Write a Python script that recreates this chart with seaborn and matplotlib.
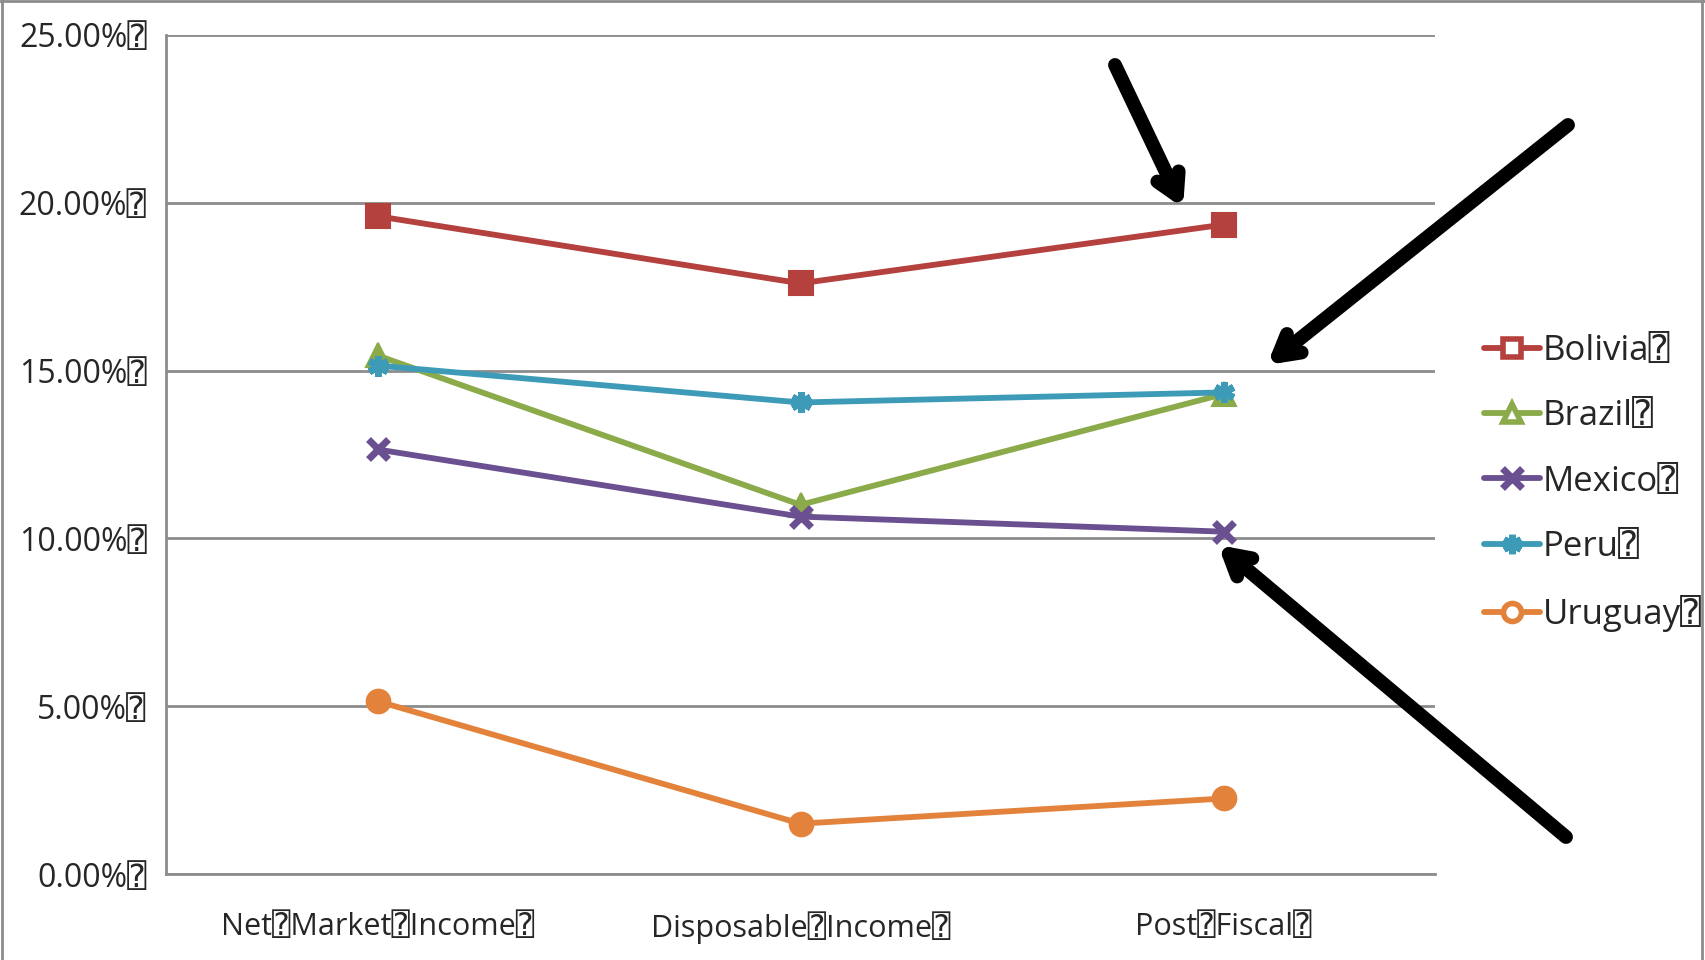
import matplotlib
matplotlib.use("Agg")
import matplotlib.pyplot as plt
from matplotlib.lines import Line2D
import seaborn as sns
import pandas as pd

# Chart data
stages = ["Net Market Income", "Disposable Income", "Post Fiscal"]
bolivia = [19.6, 17.6, 19.35]
brazil = [15.45, 11.0, 14.3]
mexico = [12.65, 10.65, 10.2]
peru = [15.15, 14.05, 14.35]
uruguay = [5.15, 1.5, 2.25]
y_ticks = [0, 5, 10, 15, 20, 25]

BOX = "\u2370"  # missing-glyph box carried in the source labels

series = {
    "Bolivia": bolivia,
    "Brazil": brazil,
    "Mexico": mexico,
    "Peru": peru,
    "Uruguay": uruguay,
}
colors = {
    "Bolivia": "#B4413D",
    "Brazil": "#8BAA4A",
    "Mexico": "#6B5091",
    "Peru": "#3D9BB7",
    "Uruguay": "#E3823A",
}
markers = {
    "Bolivia": "s",
    "Brazil": "^",
    "Mexico": "x",
    "Peru": (6, 2, 0),
    "Uruguay": "o",
}

rows = []
for name, vals in series.items():
    for i, v in enumerate(vals):
        rows.append({"country": name, "pos": i, "value": v})
df = pd.DataFrame(rows)

sns.set_style("white")
FONT = ["Open Sans", "DejaVu Sans", "DejaVu Sans Mono"]
plt.rcParams["font.family"] = FONT

fig = plt.figure(figsize=(17.05, 9.6), dpi=100)
ax = fig.add_axes([166 / 1705, 1 - 874 / 960, (1435 - 166) / 1705, (874 - 35) / 960])

for name in series:
    sub = df[df["country"] == name]
    m = markers[name]
    kw = dict(markersize=17, markeredgewidth=1.5)
    if m == "x" or isinstance(m, tuple):
        kw = dict(markersize=15, markeredgewidth=5)
    sns.lineplot(data=sub, x="pos", y="value", ax=ax, color=colors[name],
                 marker=m, linewidth=4.2, markeredgecolor=colors[name],
                 markerfacecolor=colors[name], zorder=3, **kw)

ax.set_xlim(-0.5, len(stages) - 0.5)
ax.set_ylim(0, 25)
ax.set_yticks(y_ticks)
ax.set_yticklabels([f"{t:.2f}%{BOX}" for t in y_ticks], fontsize=23)
ax.set_xticks([i - 0.5 for i in range(len(stages) + 1)])
ax.set_xticklabels([])
ax.set_xticks(range(len(stages)), minor=True)
ax.set_xticklabels([s.replace(" ", BOX) + BOX for s in stages], minor=True, fontsize=22)
ax.tick_params(axis="x", which="minor", length=0, pad=27)
ax.tick_params(axis="x", which="major", length=12, width=2, color="#8C8C8C", direction="out")
ax.tick_params(axis="y", length=12, width=2, color="#8C8C8C", direction="out", pad=2)
ax.set_xlabel("")
ax.set_ylabel("")

ax.grid(axis="y", color="#8C8C8C", linewidth=2)
ax.set_axisbelow(True)
for side in ["top", "right"]:
    ax.spines[side].set_visible(False)
for side in ["left", "bottom"]:
    ax.spines[side].set_color("#8C8C8C")
    ax.spines[side].set_linewidth(2)

# Legend
handles = []
for name in series:
    m = markers[name]
    if m == "x" or isinstance(m, tuple):
        h = Line2D([], [], color=colors[name], marker=m, markersize=14,
                   markeredgewidth=5, linewidth=4.2)
    else:
        h = Line2D([], [], color=colors[name], marker=m, markersize=13,
                   markeredgewidth=4, markerfacecolor="white",
                   markeredgecolor=colors[name], linewidth=4.2)
    handles.append(h)
fig.legend(handles, [n + BOX for n in series], loc="center left",
           bbox_to_anchor=(1484 / 1705, 1 - 483 / 960), frameon=False,
           borderaxespad=0, borderpad=0,
           fontsize=25, handlelength=1.6, handletextpad=0.1, labelspacing=0.9)

# Pointer arrows
arrow_kw = dict(arrowstyle="->,head_length=1.5,head_width=0.85", color="black",
                lw=10, shrinkA=0, shrinkB=0)
for tail, tip in [((1115, 65), (1183, 208)),
                  ((1568, 125), (1267, 365)),
                  ((1566, 837), (1218, 545))]:
    ax.annotate("", xy=(tip[0], 960 - tip[1]), xytext=(tail[0], 960 - tail[1]),
                xycoords="figure pixels", textcoords="figure pixels",
                arrowprops=arrow_kw, annotation_clip=False)

# Outer frame
for xs, ys in [([0.001, 0.001], [0, 1]), ([0, 1], [0.999, 0.999]), ([0.998, 0.998], [0, 1])]:
    fig.add_artist(Line2D(xs, ys, transform=fig.transFigure, color="#8C8C8C", linewidth=2))

fig.savefig("out.png", dpi=100)
